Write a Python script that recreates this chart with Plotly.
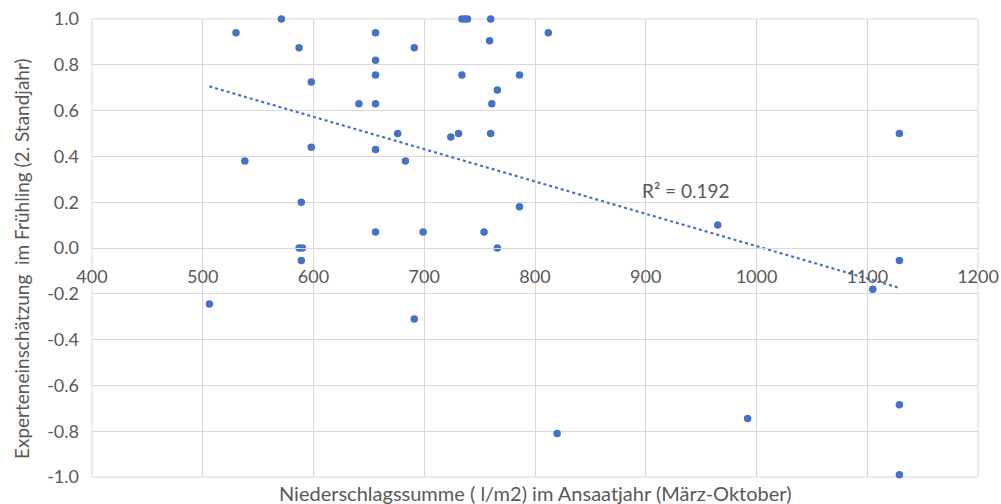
import numpy as np
import plotly.graph_objects as go

# Precipitation sum (l/m2, March-October of sowing year) and expert rating in spring (2nd year)
niederschlag = [
    530, 571, 587, 598, 538, 598, 589, 587, 590, 589,
    656, 656, 656, 656, 641, 656, 656, 691, 676, 683,
    699, 724, 731, 734, 734, 737, 739, 760, 759, 761,
    760, 754, 766, 766, 812, 786, 786, 965, 1129, 1129,
    506, 691, 1105, 820, 992, 1129, 1129,
]
einschaetzung = [
    0.94, 1.0, 0.875, 0.725, 0.38, 0.44, 0.2, 0.0, 0.0, -0.055,
    0.94, 0.82, 0.755, 0.63, 0.63, 0.43, 0.07, 0.875, 0.5, 0.38,
    0.07, 0.485, 0.5, 0.755, 1.0, 1.0, 1.0, 1.0, 0.905, 0.63,
    0.5, 0.07, 0.0, 0.69, 0.94, 0.755, 0.18, 0.1, 0.5, -0.055,
    -0.245, -0.31, -0.18, -0.81, -0.745, -0.685, -0.99,
]

x_ticks = [400, 500, 600, 700, 800, 900, 1000, 1100, 1200]
y_ticks = [-1.0, -0.8, -0.6, -0.4, -0.2, 0.0, 0.2, 0.4, 0.6, 0.8, 1.0]
r2_label = "R² = 0.192"

BLUE = "#4472C4"
TEXT = "#595959"
GRID = "#d9d9d9"
FONT = "Lato"

# Linear trend line over the range of the data
x_arr = np.array(niederschlag, dtype=float)
y_arr = np.array(einschaetzung, dtype=float)
slope, intercept = np.polyfit(x_arr, y_arr, 1)
trend_x = np.array([x_arr.min(), x_arr.max()])
trend_y = slope * trend_x + intercept

fig = go.Figure()
fig.add_trace(go.Scatter(
    x=trend_x, y=trend_y, mode="lines",
    line=dict(color=BLUE, width=2.2, dash="dot"),
    hoverinfo="skip", showlegend=False,
))
fig.add_trace(go.Scatter(
    x=niederschlag, y=einschaetzung, mode="markers",
    marker=dict(color=BLUE, size=7.5),
    cliponaxis=False, showlegend=False,
))

fig.update_layout(
    width=1001, height=504,
    margin=dict(l=92, r=23, t=19, b=27, autoexpand=False),
    paper_bgcolor="white", plot_bgcolor="white",
    font=dict(family=FONT, color=TEXT, size=18),
    xaxis=dict(
        range=[400, 1200], tickvals=x_ticks, ticktext=[str(v) for v in x_ticks],
        showgrid=True, gridcolor=GRID, gridwidth=1, automargin=False,
        zeroline=False, showline=True, linecolor=GRID, linewidth=1,
        anchor="free", position=0.5, ticks="", ticklabelstandoff=12,
        tickfont=dict(family=FONT, color=TEXT, size=18),
    ),
    yaxis=dict(
        range=[-1.0, 1.0], tickvals=y_ticks,
        ticktext=[f"{v:.1f}" for v in y_ticks],
        showgrid=True, gridcolor=GRID, gridwidth=1, automargin=False,
        zeroline=False, showline=False, ticks="", ticklabelstandoff=12,
        tickfont=dict(family=FONT, color=TEXT, size=18),
    ),
    shapes=[dict(
        type="rect", xref="paper", yref="paper", x0=0, x1=1, y0=0, y1=1,
        line=dict(color=GRID, width=1), layer="below",
    )],
    annotations=[
        dict(
            text="Niederschlagssumme ( l/m2) im Ansaatjahr (März-Oktober)",
            xref="paper", yref="paper", x=0.5, y=0, yshift=-16,
            xanchor="center", yanchor="middle", showarrow=False,
            font=dict(family=FONT, color=TEXT, size=20),
        ),
        dict(
            text="Experteneinschätzung  im Frühling (2. Standjahr)",
            xref="paper", yref="paper", x=0, xshift=-70, y=0.476,
            xanchor="center", yanchor="middle", textangle=-90, showarrow=False,
            font=dict(family=FONT, color=TEXT, size=19),
        ),
        dict(
            text=r2_label, xref="x", yref="y", x=895, y=0.25,
            xanchor="left", yanchor="middle", showarrow=False,
            font=dict(family=FONT, color=TEXT, size=19),
        ),
    ],
)

fig.write_html("out.html")
